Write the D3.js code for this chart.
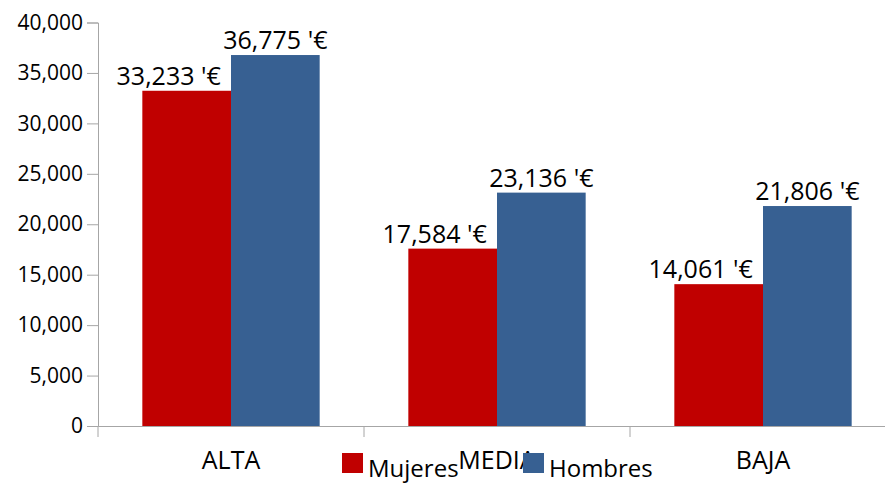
<!DOCTYPE html>
<html>
<head>
<meta charset="utf-8">
<script src="https://cdn.jsdelivr.net/npm/d3@7"></script>
<style>
  body { margin: 0; background: #fff; }
  svg { display: block; font-family: "Open Sans", sans-serif; }
</style>
</head>
<body>
<svg id="chart"></svg>
<script>
const width = 885;
const height = 484;

// data
const categories = ["ALTA", "MEDIA", "BAJA"];
const seriesNames = ["Mujeres", "Hombres"];
const mujeres = [33233, 17584, 14061];
const hombres = [36775, 23136, 21806];
const yTicks = [0, 5000, 10000, 15000, 20000, 25000, 30000, 35000, 40000];

const colors = ["#C00000", "#376092"];
const axisColor = "#a6a6a6";

const svg = d3.select("#chart")
  .attr("width", width)
  .attr("height", height);

const x = d3.scaleBand()
  .domain(categories)
  .range([98, 896])
  .paddingInner(0)
  .paddingOuter(0);

const xSub = d3.scaleBand()
  .domain(seriesNames)
  .range([0, x.bandwidth()])
  .paddingInner(0)
  .paddingOuter(0.5);

const y = d3.scaleLinear()
  .domain([0, 40000])
  .range([426, 22.5]);

const fmt = d3.format(",");

// y axis
const yAxis = svg.append("g")
  .attr("transform", "translate(98,0)")
  .call(d3.axisLeft(y).tickValues(yTicks).tickFormat(fmt).tickSize(11).tickPadding(4));
yAxis.select(".domain").attr("stroke", axisColor);
yAxis.selectAll(".tick line").attr("stroke", axisColor);
yAxis.selectAll(".tick text")
  .attr("fill", "#000")
  .attr("font-size", 21)
  .attr("font-family", "Open Sans, sans-serif");

// x axis
const xAxis = svg.append("g")
  .attr("transform", "translate(0,426)")
  .call(d3.axisBottom(x).tickSize(0).tickPadding(0));
xAxis.select(".domain").attr("stroke", axisColor);
xAxis.selectAll(".tick text")
  .attr("fill", "#000")
  .attr("font-size", 25)
  .attr("font-family", "Open Sans, sans-serif")
  .attr("dy", 0)
  .attr("y", 43);
// category separators
svg.append("g").selectAll("line")
  .data(categories)
  .join("line")
  .attr("x1", d => x(d))
  .attr("x2", d => x(d))
  .attr("y1", 426)
  .attr("y2", 437)
  .attr("stroke", axisColor);

// bars
const rows = categories.map((c, i) => ({ cat: c, values: [mujeres[i], hombres[i]] }));

const group = svg.append("g").selectAll("g")
  .data(rows)
  .join("g")
  .attr("transform", d => `translate(${x(d.cat)},0)`);

group.selectAll("rect")
  .data(d => d.values.map((v, j) => ({ name: seriesNames[j], v, j })))
  .join("rect")
  .attr("x", d => xSub(d.name))
  .attr("width", xSub.bandwidth())
  .attr("y", d => y(d.v))
  .attr("height", d => y(0) - y(d.v))
  .attr("fill", d => colors[d.j]);

group.selectAll("text")
  .data(d => d.values.map((v, j) => ({ name: seriesNames[j], v, j })))
  .join("text")
  .attr("x", d => xSub(d.name) + xSub.bandwidth() / 2 + (d.j === 0 ? -18 : 0))
  .attr("y", d => y(d.v) - 6)
  .attr("text-anchor", "middle")
  .attr("font-size", 25)
  .attr("fill", "#000")
  .text(d => fmt(d.v) + " '€");

// legend
const legend = svg.append("g");
const legendX = [342, 523];
seriesNames.forEach((s, i) => {
  legend.append("rect")
    .attr("x", legendX[i])
    .attr("y", 453)
    .attr("width", 21)
    .attr("height", 20)
    .attr("fill", colors[i]);
  legend.append("text")
    .attr("x", legendX[i] + 26)
    .attr("y", 477)
    .attr("font-size", 24)
    .attr("fill", "#000")
    .text(s);
});
</script>
</body>
</html>
